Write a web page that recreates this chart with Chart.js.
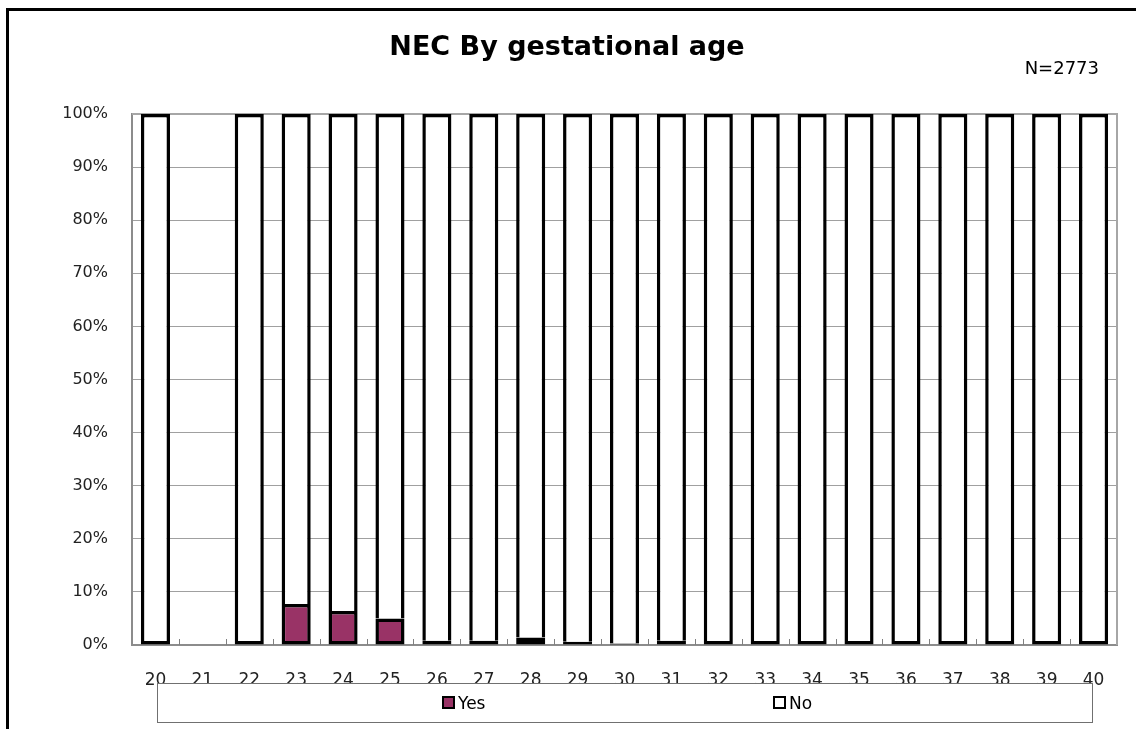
<!DOCTYPE html>
<html>
<head>
<meta charset="utf-8">
<script src="https://cdn.jsdelivr.net/npm/chart.js@4.4.0/dist/chart.umd.min.js"></script>
<style>
  html, body { margin: 0; padding: 0; background: #fff; width: 1136px; height: 729px; overflow: hidden; }
  #frame { position: absolute; left: 6px; top: 8px; width: 1300px; height: 900px; border: 3px solid #000; box-sizing: border-box; }
  #wrap { position: absolute; left: 0; top: 0; width: 1136px; height: 729px; }
</style>
</head>
<body>
<div id="frame"></div>
<div id="wrap"><canvas id="c" width="1136" height="729"></canvas></div>
<script>
const categories = ['20','21','22','23','24','25','26','27','28','29','30','31','32','33','34','35','36','37','38','39','40'];
const yesValues = [0, null, 0, 7.7, 6.4, 5.0, 0.8, 0.8, 1.4, 0.6, 0.3, 0.8, 0, 0, 0, 0, 0, 0, 0, 0, 0];
const noValues  = [100, null, 100, 92.3, 93.6, 95.0, 99.2, 99.2, 98.6, 99.4, 99.7, 99.2, 100, 100, 100, 100, 100, 100, 100, 100, 100];
const seriesNames = ['Yes', 'No'];
const seriesColors = ['#993366', '#ffffff'];
const yTickValues = [0, 10, 20, 30, 40, 50, 60, 70, 80, 90, 100];
const titleText = 'NEC By gestational age';
const noteText = 'N=2773';

const decorPlugin = {
  id: 'decor',
  beforeDatasetsDraw(chart) {
    const ctx = chart.ctx;
    const a = chart.chartArea;
    const xs = chart.scales.x;
    ctx.save();
    ctx.strokeStyle = '#a6a6a6';
    ctx.lineWidth = 2;
    ctx.beginPath();
    ctx.moveTo(a.left, a.top);
    ctx.lineTo(a.right, a.top);
    ctx.lineTo(a.right, a.bottom);
    ctx.stroke();
    const half = (xs.getPixelForValue(1) - xs.getPixelForValue(0)) / 2;
    ctx.strokeStyle = '#808080';
    ctx.lineWidth = 1;
    for (let i = 1; i < categories.length; i++) {
      const x = Math.round(xs.getPixelForValue(i) - half) + 0.5;
      ctx.beginPath();
      ctx.moveTo(x, a.bottom);
      ctx.lineTo(x, a.bottom - 6);
      ctx.stroke();
    }
    ctx.restore();
  },
  afterDraw(chart) {
    const ctx = chart.ctx;
    ctx.save();
    ctx.fillStyle = '#000';
    ctx.font = 'bold 27px "DejaVu Sans"';
    ctx.textAlign = 'center';
    ctx.textBaseline = 'alphabetic';
    ctx.fillText(titleText, 567, 55);
    ctx.font = '18px "DejaVu Sans"';
    ctx.textAlign = 'right';
    ctx.fillText(noteText, 1099, 74);
    ctx.fillStyle = '#fff';
    ctx.fillRect(157, 683, 935, 39);
    ctx.strokeStyle = '#707070';
    ctx.lineWidth = 1;
    ctx.strokeRect(157.5, 683.5, 935, 39);
    const itemX = [443, 774];
    ctx.font = '17px "DejaVu Sans"';
    ctx.textAlign = 'left';
    chart.data.datasets.forEach((ds, i) => {
      const x = itemX[i];
      ctx.fillStyle = ds.backgroundColor;
      ctx.fillRect(x, 697, 11, 11);
      ctx.strokeStyle = '#000';
      ctx.lineWidth = 2;
      ctx.strokeRect(x, 697, 11, 11);
      ctx.fillStyle = '#000';
      ctx.fillText(ds.label, x + 15, 709);
    });
    ctx.restore();
  }
};

new Chart(document.getElementById('c'), {
  type: 'bar',
  data: {
    labels: categories,
    datasets: [
      {
        label: seriesNames[0],
        data: yesValues,
        backgroundColor: seriesColors[0],
        borderColor: '#000',
        borderWidth: 3.5,
        borderSkipped: false,
        categoryPercentage: 1.0,
        barPercentage: 0.62
      },
      {
        label: seriesNames[1],
        data: noValues,
        backgroundColor: seriesColors[1],
        borderColor: '#000',
        borderWidth: 3.5,
        borderSkipped: (c) => (yesValues[c.dataIndex] > 0 ? 'start' : false),
        categoryPercentage: 1.0,
        barPercentage: 0.62
      }
    ]
  },
  options: {
    responsive: false,
    animation: false,
    layout: { padding: { left: 0, right: 19, top: 114, bottom: 44 } },
    plugins: {
      legend: { display: false },
      title: { display: false },
      tooltip: { enabled: false }
    },
    scales: {
      x: {
        stacked: true,
        grid: { display: false, drawTicks: false },
        border: { display: true, color: '#8c8c8c', width: 2 },
        ticks: {
          color: '#222',
          font: { family: 'DejaVu Sans', size: 17 },
          padding: 25,
          maxRotation: 0,
          autoSkip: false
        },
        afterFit(scale) { scale.height = 40; }
      },
      y: {
        stacked: true,
        min: 0,
        max: 100,
        afterBuildTicks(scale) { scale.ticks = yTickValues.map(v => ({ value: v })); },
        grid: { color: '#a0a0a0', lineWidth: 1, drawTicks: false },
        border: { display: true, color: '#8c8c8c', width: 2 },
        ticks: {
          color: '#222',
          font: { family: 'DejaVu Sans', size: 16 },
          padding: 24,
          callback: (v) => v + '%'
        },
        afterFit(scale) { scale.width = 132; }
      }
    }
  },
  plugins: [decorPlugin]
});
</script>
</body>
</html>
